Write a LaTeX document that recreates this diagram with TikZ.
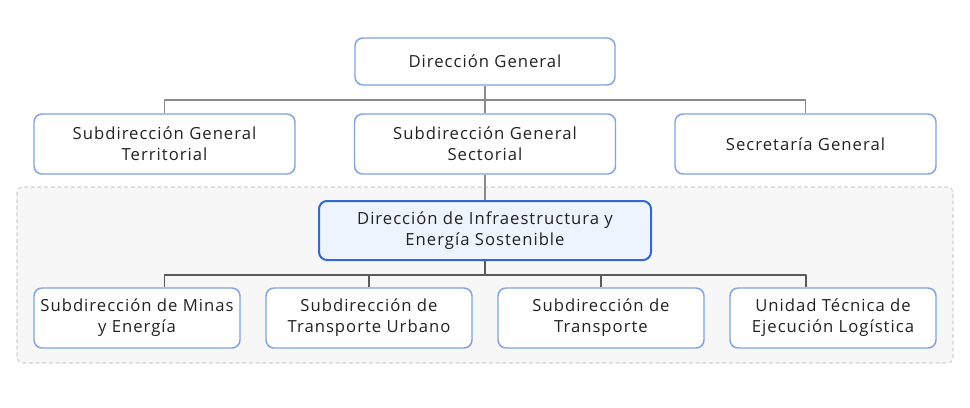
\documentclass[tikz,border=0pt]{standalone}
\usepackage{fontspec}
\setmainfont{Open Sans}[LetterSpace=6]
\usetikzlibrary{positioning}
\definecolor{unitblue}{HTML}{7FA2E4}
\definecolor{keyblue}{HTML}{3467CF}
\definecolor{keyfill}{HTML}{EEF4FD}
\definecolor{inktext}{HTML}{222222}
\definecolor{linkgrey}{HTML}{8A8A8A}
\definecolor{busgrey}{HTML}{5A5A5A}
\definecolor{areafill}{HTML}{F7F7F7}
\definecolor{areaedge}{HTML}{D2D2D2}
\tikzset{
  unit/.style={draw=unitblue,line width=1.1pt,fill=white,rounded corners=6pt,
    align=center,text=inktext,inner sep=0pt,
    font=\fontsize{12.5}{15.75}\selectfont},
  topunit/.style={unit,minimum width=195pt,minimum height=35.25pt},
  midunit/.style={unit,minimum width=195.75pt,minimum height=45pt},
  lowunit/.style={unit,minimum width=154.5pt,minimum height=45pt},
  keyunit/.style={unit,draw=keyblue,line width=1.5pt,fill=keyfill,
    minimum width=249pt,minimum height=44.25pt},
  link/.style={draw=linkgrey,line width=0.8pt},
  bus/.style={draw=busgrey,line width=1.4pt}
}
\begin{document}
\begin{tikzpicture}[x=0.75pt,y=-0.75pt,line join=round]
\useasboundingbox (0,0) rectangle (970,407);
% sector area
\draw[areaedge,fill=areafill,dashed,dash pattern=on 3pt off 2pt,line width=0.8pt,rounded corners=4pt] (17,187) rectangle (953,363);
% top levels
\node[topunit] (dg) at (485,61.5) {Dirección General};
\node[midunit] (sgt) at (164.5,144) {Subdirección General\\Territorial};
\node[midunit] (sgs) at (485,144) {Subdirección General\\Sectorial};
\node[midunit] (sec) at (805.5,144) {Secretaría General};
\coordinate (topbus) at (485,100);
\draw[link] (dg.south) -- (topbus);
\draw[link] (sgt.north) |- (topbus);
\draw[link] (sec.north) |- (topbus);
\draw[link] (topbus) -- (sgs.north);
% sector
\node[keyunit] (die) at (485,230.5) {Dirección de Infraestructura y\\Energía Sostenible};
\draw[link] (sgs.south) -- (die.north);
\node[lowunit] (minas) at (137,318) {Subdirección de Minas\\y Energía};
\node[lowunit] (turb) at (369,318) {Subdirección de\\Transporte Urbano};
\node[lowunit] (trans) at (601,318) {Subdirección de\\Transporte};
\node[lowunit] (utel) at (833,318) {Unidad Técnica de\\Ejecución Logística};
\coordinate (busl) at (164.5,275);
\coordinate (busr) at (806,275);
\draw[bus] (busl |- minas.north) -- (busl) -- (busr) -- (busr |- utel.north);
\draw[bus] (die.south) -- (die.south |- busl);
\draw[bus] (turb.north) -- (turb.north |- busl);
\draw[bus] (trans.north) -- (trans.north |- busl);
\end{tikzpicture}
\end{document}
